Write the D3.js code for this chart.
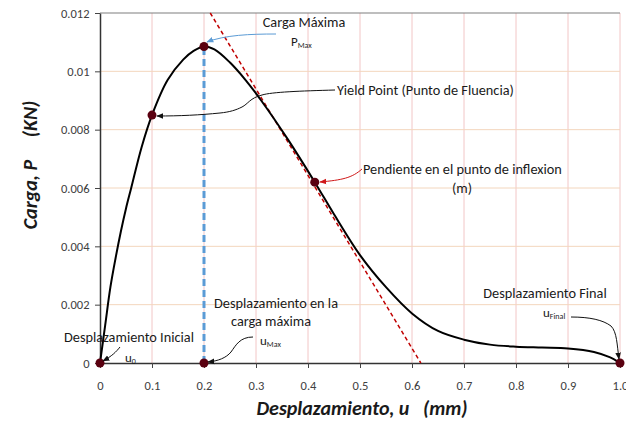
<!DOCTYPE html>
<html>
<head>
<meta charset="utf-8">
<script src="https://cdn.jsdelivr.net/npm/d3@7"></script>
<style>
  body { margin: 0; background: #fff; }
  svg text { font-family: Carlito, Lato, "Open Sans", sans-serif; }
</style>
</head>
<body>
<div id="chart"></div>
<script>
// curve: displacement (mm) vs load (KN)
let desplazamiento = [0, 0.01, 0.02, 0.03, 0.04, 0.05, 0.06, 0.08, 0.1, 0.13, 0.16, 0.18, 0.2, 0.22, 0.25, 0.28, 0.31, 0.36, 0.413, 0.45, 0.5, 0.55, 0.6, 0.65, 0.7, 0.75, 0.8, 0.85, 0.9, 0.95, 0.98, 1.0];
let carga = [0, 0.0013, 0.0026, 0.0036, 0.0045, 0.0053, 0.0060, 0.0074, 0.0085, 0.0097, 0.0104, 0.0107, 0.01085, 0.01075, 0.0103, 0.0097, 0.0090, 0.0077, 0.0062, 0.0051, 0.0037, 0.0026, 0.0017, 0.0011, 0.0008, 0.00063, 0.00056, 0.00053, 0.0005, 0.00038, 0.0002, 0];

// marked points
let puntosX = [0, 0.1, 0.2, 0.413, 0.2, 1.0];
let puntosY = [0, 0.0085, 0.01085, 0.0062, 0, 0];

// tangent at the inflexion point
let tangenteX = [0.212, 0.617];
let tangenteY = [0.012, 0];

let xTicks = [0, 0.1, 0.2, 0.3, 0.4, 0.5, 0.6, 0.7, 0.8, 0.9, 1.0];
let yTicks = [0, 0.002, 0.004, 0.006, 0.008, 0.01, 0.012];

let svg = d3.select("#chart").append("svg").attr("width", 626).attr("height", 421),
    margin = {top: 13, right: 6, bottom: 58, left: 100},
    width = 626 - margin.left - margin.right,
    height = 421 - margin.top - margin.bottom,
    g = svg.append("g").attr("transform", "translate(" + margin.left + "," + margin.top + ")");

let x = d3.scaleLinear().domain([0, 1]).range([0, width]),
    y = d3.scaleLinear().domain([0, 0.012]).range([height, 0]);

let defs = svg.append("defs");
function marker(id, color) {
    defs.append("marker").attr("id", id)
        .attr("viewBox", "0 0 10 10").attr("refX", 9).attr("refY", 5)
        .attr("markerWidth", 7).attr("markerHeight", 7).attr("orient", "auto")
        .append("path").attr("d", "M0,1 L10,5 L0,9 Z").attr("fill", color);
}
marker("arrBlack", "#111");
marker("arrRed", "#d01818");
marker("arrBlue", "#5b9bd5");

// grid
g.selectAll(".vgrid").data(xTicks.slice(1)).enter().append("line")
    .attr("x1", d => x(d)).attr("x2", d => x(d))
    .attr("y1", 0).attr("y2", height)
    .attr("stroke", "#f2c6c6").attr("stroke-width", 1);
g.selectAll(".hgrid").data(yTicks.slice(1, -1)).enter().append("line")
    .attr("x1", 0).attr("x2", width)
    .attr("y1", d => y(d)).attr("y2", d => y(d))
    .attr("stroke", "#f3d6bd").attr("stroke-width", 1);
g.append("line").attr("x1", 0).attr("x2", width)
    .attr("y1", y(0.012)).attr("y2", y(0.012))
    .attr("stroke", "#7f7f7f").attr("stroke-width", 1.2);

// axes
let xAxis = g.append("g").attr("transform", "translate(0," + height + ")")
    .call(d3.axisBottom(x).tickValues(xTicks).tickSize(5).tickSizeOuter(0)
        .tickFormat(d => d === 0 ? "0" : d3.format(".1f")(d)));
let yAxis = g.append("g")
    .call(d3.axisLeft(y).tickValues(yTicks).tickSize(5).tickSizeOuter(0)
        .tickFormat(d => d === 0 ? "0" : d3.format("~g")(d)));
[xAxis, yAxis].forEach(a => {
    a.select(".domain").attr("stroke", "#333").attr("stroke-width", 1.5);
    a.selectAll(".tick line").attr("stroke", "#444");
    a.selectAll(".tick text").attr("fill", "#404040").style("font-size", "12.5px");
});
xAxis.selectAll(".tick text").attr("dy", "1.5em");
yAxis.selectAll(".tick text").attr("dx", "-0.2em");

// vertical blue dashed line at max load
g.append("line")
    .attr("x1", x(0.2)).attr("x2", x(0.2))
    .attr("y1", y(0)).attr("y2", y(0.01085))
    .attr("stroke", "#5b9bd5").attr("stroke-width", 3).attr("stroke-dasharray", "7,4");

// tangent line
g.append("line")
    .attr("x1", x(tangenteX[0])).attr("y1", y(tangenteY[0]))
    .attr("x2", x(tangenteX[1])).attr("y2", y(tangenteY[1]))
    .attr("stroke", "#c00000").attr("stroke-width", 1.5).attr("stroke-dasharray", "4,3");

// curve
let curveData = desplazamiento.map((d, i) => ({u: d, p: carga[i]}));
let line = d3.line().curve(d3.curveCatmullRom.alpha(0.5)).x(d => x(d.u)).y(d => y(d.p));
g.append("path").datum(curveData)
    .attr("d", line).attr("fill", "none")
    .attr("stroke", "#000").attr("stroke-width", 2);

// points
g.selectAll(".pt").data(puntosX).enter().append("circle")
    .attr("cx", d => x(d)).attr("cy", (d, i) => y(puntosY[i]))
    .attr("r", 4.5).attr("fill", "#5a0010");

// annotations
function label(txt, px, py, anchor) {
    return svg.append("text").attr("x", px).attr("y", py)
        .attr("text-anchor", anchor || "start")
        .style("font-size", "14.3px").attr("fill", "#1a1a1a").text(txt);
}
function sub(main, s, px, py) {
    let t = svg.append("text").attr("x", px).attr("y", py).style("font-size", "13px").attr("fill", "#1a1a1a");
    t.append("tspan").text(main);
    t.append("tspan").attr("dy", 2).style("font-size", "8px").text(s);
    return t;
}
function arrow(path, color, mk) {
    svg.append("path").attr("d", path).attr("fill", "none")
        .attr("stroke", color).attr("stroke-width", 1).attr("marker-end", "url(#" + mk + ")");
}

label("Carga Máxima", 304, 27, "middle");
sub("P", "Max", 291, 46);
arrow("M276,34 C250,34 225,35 207,42", "#5b9bd5", "arrBlue");

label("Yield Point (Punto de Fluencia)", 337, 95);
arrow("M335,90 C300,91 272,92 262,95 C250,98 248,104 242,107 C236,110 230,112 220,113 C200,115 180,116 157,116", "#111", "arrBlack");

label("Pendiente en el punto de inflexion", 363, 174);
label("(m)", 462, 193, "middle");
arrow("M362,169 C352,178 342,180 320,182", "#d01818", "arrRed");

label("Desplazamiento Final", 545, 298, "middle");
sub("u", "Final", 543, 317);
arrow("M571,317 C590,317 603,320 611,326 C617,332 617,345 619,359", "#111", "arrBlack");

label("Desplazamiento en la", 276, 308, "middle");
label("carga máxima", 271, 326, "middle");
sub("u", "Max", 260, 345);
arrow("M253,337 C240,337 236,345 231,352 C226,358 218,361 208,362", "#111", "arrBlack");

label("Desplazamiento Inicial", 129, 342, "middle");
sub("u", "0", 125, 362);
arrow("M120,347 C116,352 112,356 103,361", "#111", "arrBlack");

// axis titles
svg.append("text")
    .attr("transform", "translate(37,165) rotate(-90)")
    .attr("text-anchor", "middle")
    .style("font-size", "20px").style("font-weight", "bold").style("font-style", "italic")
    .attr("fill", "#1a1a1a").attr("xml:space", "preserve")
    .text("Carga, P     (KN)");
svg.append("text")
    .attr("x", 362).attr("y", 415)
    .attr("text-anchor", "middle")
    .style("font-size", "20px").style("font-weight", "bold").style("font-style", "italic")
    .attr("fill", "#1a1a1a").attr("xml:space", "preserve")
    .text("Desplazamiento, u   (mm)");
</script>
</body>
</html>
